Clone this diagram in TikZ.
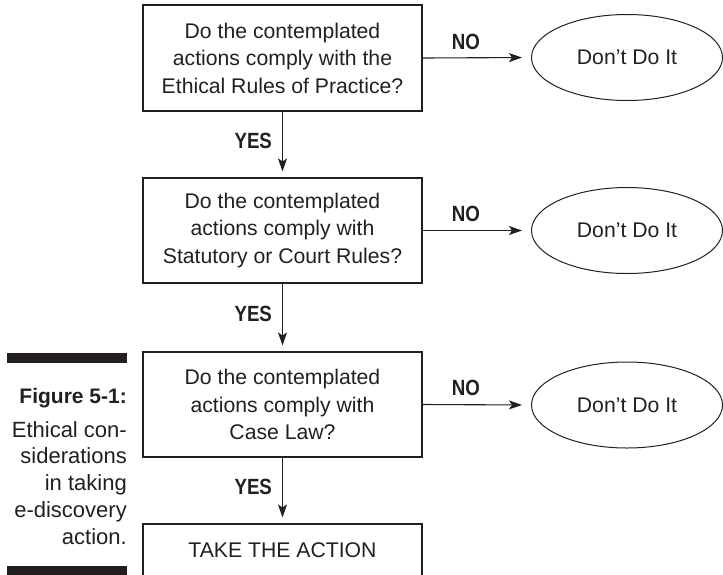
\documentclass[tikz,border=0pt]{standalone}
\usepackage{fontspec}
\setmainfont{Liberation Sans}
\newfontfamily\tagfont{Liberation Sans Bold}[FakeStretch=0.85]
\usetikzlibrary{arrows.meta,shapes.geometric}
\definecolor{ink}{HTML}{231F20}
\begin{document}
\begin{tikzpicture}[x=1pt,y=-1pt,
  every node/.style={text=ink},
  qbox/.style={draw=ink, line width=1.1pt, minimum width=279pt, minimum height=105pt,
    inner sep=0pt, align=center, font=\fontsize{21.2}{27.5}\selectfont},
  halt/.style={draw=ink, ellipse, line width=1pt, minimum width=191pt, minimum height=86pt,
    inner sep=0pt, font=\fontsize{21.2}{25}\selectfont},
  flow/.style={draw=ink, line width=1.1pt, -{Stealth[length=13pt,width=9pt,inset=3pt]}},
  tag/.style={inner sep=0pt, font=\tagfont\fontsize{22}{22}\selectfont},
  captxt/.style={inner sep=0pt, align=right, font=\fontsize{22}{26.8}\selectfont}
]
\useasboundingbox (0,0) rectangle (723,574);
\clip (0,0) rectangle (723,574);

% decision boxes
\node[qbox, minimum height=106pt] (q1) at (282.5,58)
  {Do the contemplated\\actions comply with the\\Ethical Rules of Practice?};
\node[qbox] (q2) at (282.5,230.5)
  {Do the contemplated\\actions comply with\\Statutory or Court Rules?};
\node[qbox] (q3) at (282.5,404.5)
  {Do the contemplated\\actions comply with\\Case Law?};
\node[qbox, minimum height=0pt, anchor=base, text height=33pt, text depth=40pt] (act)
  at (282.5,557) {TAKE THE ACTION};

% stop ovals
\node[halt] (n1) at (627,57.5) {Don’t Do It};
\node[halt] (n2) at (627,230.5) {Don’t Do It};
\node[halt] (n3) at (627,405) {Don’t Do It};

% YES connectors
\draw[flow, shorten >=6pt] (q1.south) -- node[tag, pos=0.45, left=10pt] {YES} (q2.north);
\draw[flow, shorten >=6pt] (q2.south) -- node[tag, pos=0.45, left=10pt] {YES} (q3.north);
\draw[flow, shorten >=6pt] (q3.south) -- node[tag, pos=0.45, left=10pt] {YES} (act.north);

% NO connectors
\draw[flow, shorten >=9pt] (q1.east) -- node[tag, pos=0.4, above=8pt] {NO} (n1.west);
\draw[flow, shorten >=9pt] (q2.east) -- node[tag, pos=0.4, above=8pt] {NO} (n2.west);
\draw[flow, shorten >=9pt] (q3.east) -- node[tag, pos=0.4, above=8pt] {NO} (n3.west);

% caption with rules
\fill[ink] (7,353) rectangle (127,363);
\fill[ink] (7,566) rectangle (127,576);
\node[inner sep=0pt, anchor=base east, font=\bfseries\fontsize{21}{21}\selectfont] (figno)
  at (127,403) {Figure 5-1:};
\node[captxt, anchor=north east] (figtext) at (127,421)
  {Ethical con-\\siderations\\in taking\\e-discovery\\action.};
\end{tikzpicture}
\end{document}
